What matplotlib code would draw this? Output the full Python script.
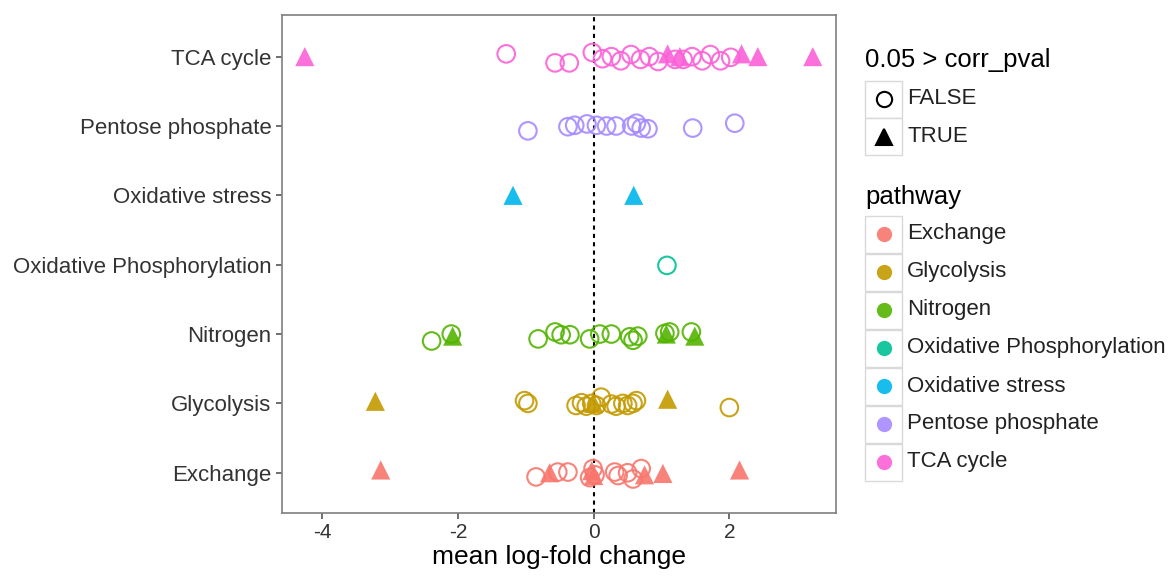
import numpy as np
import matplotlib
matplotlib.use('Agg')
import matplotlib.pyplot as plt
from matplotlib.patches import Rectangle
from matplotlib.lines import Line2D

plt.rcParams['font.family'] = ['Liberation Sans', 'DejaVu Sans']

pathways = ['Exchange', 'Glycolysis', 'Nitrogen', 'Oxidative Phosphorylation',
            'Oxidative stress', 'Pentose phosphate', 'TCA cycle']
colors = ['#F8766D', '#C49A00', '#53B400', '#00C094', '#00B6EB', '#A58AFF', '#FB61D7']

# mean log-fold change, not significant (FALSE) / significant (TRUE)
# jitter = vertical offset of each point in category units
exch_false = [-0.85, -0.53, -0.38, -0.06, -0.01, 0.02, 0.31, 0.36, 0.5, 0.58, 0.7]
exch_false_jit = [-0.06, 0.01, 0.01, -0.07, 0.06, -0.03, 0.01, -0.04, 0, -0.09, 0.06]
exch_true = [-3.14, -0.65, -0.03, 0.0, 0.75, 1.02, 2.15]
exch_true_jit = [0.04, 0, 0.03, -0.04, -0.03, -0.01, 0.04]

glyc_false = [-1.02, -0.97, -0.26, -0.18, -0.11, -0.03, 0.04, 0.11, 0.26, 0.33, 0.43, 0.5, 0.58, 0.63, 2.0]
glyc_false_jit = [0.04, 0, -0.03, 0.01, -0.04, 0, -0.03, 0.09, -0.01, -0.04, 0, -0.03, 0, 0.04, -0.06]
glyc_true = [-3.22, 0.0, 1.09]
glyc_true_jit = [0.03, 0, 0.06]

nitr_false = [-2.39, -2.1, -0.82, -0.57, -0.48, -0.35, -0.06, 0.09, 0.26, 0.53, 0.58, 0.65, 1.05, 1.12, 1.44]
nitr_false_jit = [-0.1, 0, -0.07, 0.03, -0.01, -0.01, -0.07, 0, 0, -0.04, -0.09, -0.03, 0.01, 0.03, 0.03]
nitr_true = [-2.08, 1.07, 1.49]
nitr_true_jit = [-0.03, 0, -0.03]

oxph_false = [1.08]
oxph_false_jit = [-0.01]
oxph_true = []
oxph_true_jit = []

oxst_false = []
oxst_false_jit = []
oxst_true = [-1.19, 0.59]
oxst_true_jit = [0, 0]

pent_false = [-0.97, -0.38, -0.28, -0.1, 0.04, 0.19, 0.33, 0.56, 0.63, 0.7, 0.8, 1.46, 2.08]
pent_false_jit = [-0.07, -0.01, 0.01, 0.03, 0.01, 0, 0, 0, 0.04, -0.03, -0.04, -0.03, 0.04]
pent_true = []
pent_true_jit = []

tca_false = [-1.29, -0.57, -0.36, -0.02, 0.13, 0.26, 0.4, 0.55, 0.69, 0.82, 0.95, 1.2, 1.32, 1.45, 1.6, 1.72, 1.87, 2.02]
tca_false_jit = [0.04, -0.09, -0.09, 0.06, -0.03, 0, -0.06, 0.03, -0.04, 0, -0.07, -0.04, -0.04, 0, -0.06, 0.03, -0.06, -0.01]
tca_true = [-4.26, 1.09, 1.27, 2.18, 2.42, 3.23]
tca_true_jit = [0, 0.04, 0, 0.04, 0, 0]

series = [
    (exch_false, exch_false_jit, exch_true, exch_true_jit),
    (glyc_false, glyc_false_jit, glyc_true, glyc_true_jit),
    (nitr_false, nitr_false_jit, nitr_true, nitr_true_jit),
    (oxph_false, oxph_false_jit, oxph_true, oxph_true_jit),
    (oxst_false, oxst_false_jit, oxst_true, oxst_true_jit),
    (pent_false, pent_false_jit, pent_true, pent_true_jit),
    (tca_false, tca_false_jit, tca_true, tca_true_jit),
]

fig = plt.figure(figsize=(11.69, 5.78), dpi=100)
ax = fig.add_axes([0.241, 0.1125, 0.474, 0.8615])

for i, (xf, jf, xt, jt) in enumerate(series):
    c = colors[i]
    y = i + 1
    if xf:
        ax.scatter(xf, y + np.array(jf), marker='o', s=160, facecolors='none',
                   edgecolors=c, linewidths=1.5, alpha=0.9, zorder=3)
    if xt:
        ax.scatter(xt, y + np.array(jt), marker='^', s=190, color=c,
                   edgecolors='none', alpha=0.9, zorder=3)

ax.axvline(0, color='black', linestyle=(0, (2, 2)), linewidth=1.5, zorder=2)

ax.set_xlim(-4.6, 3.57)
ax.set_ylim(0.42, 7.6)
ax.set_yticks(range(1, 8))
ax.set_yticklabels(pathways, fontsize=16, color='#333333')
ax.set_xticks([-4, -2, 0, 2])
ax.set_xticklabels(['-4', '-2', '0', '2'], fontsize=15, color='#333333')
ax.tick_params(length=4, color='#555555', width=1.2)
for sp in ax.spines.values():
    sp.set_color('#7f7f7f')
    sp.set_linewidth(1.2)
ax.set_xlabel('mean log-fold change', fontsize=19, labelpad=2)

# legends drawn by hand, in figure pixels
W, H = 1169, 578


def fx(px):
    return px / W


def fy(py):
    return 1 - py / H


def key_box(top):
    fig.add_artist(Rectangle((fx(865), fy(top + 37)), 37 / W, 37 / H,
                             transform=fig.transFigure, facecolor='white',
                             edgecolor='#d9d9d9', linewidth=1))


fig.text(fx(865), fy(60), '0.05 > corr_pval', fontsize=18.5, va='center', ha='left')
for k, (lab, mk, fc) in enumerate([('FALSE', 'o', 'none'), ('TRUE', '^', 'black')]):
    cy = 99 + k * 37.5
    key_box(cy - 18.5)
    fig.add_artist(Line2D([fx(883.5)], [fy(cy)], marker=mk, markersize=11,
                          markerfacecolor=fc, markeredgecolor='black',
                          markeredgewidth=1.5, linestyle='none',
                          transform=fig.transFigure))
    fig.text(fx(907), fy(cy), lab, fontsize=16, va='center', ha='left', color='#222222')

fig.text(fx(865), fy(197), 'pathway', fontsize=18.5, va='center', ha='left')
for k, lab in enumerate(pathways):
    cy = 234 + k * 38
    key_box(cy - 18.5)
    fig.add_artist(Line2D([fx(883.5)], [fy(cy)], marker='o', markersize=11,
                          markerfacecolor=colors[k], markeredgecolor='none',
                          alpha=0.9, linestyle='none', transform=fig.transFigure))
    fig.text(fx(907), fy(cy), lab, fontsize=16, va='center', ha='left', color='#222222')

fig.savefig('out.png', dpi=100)
